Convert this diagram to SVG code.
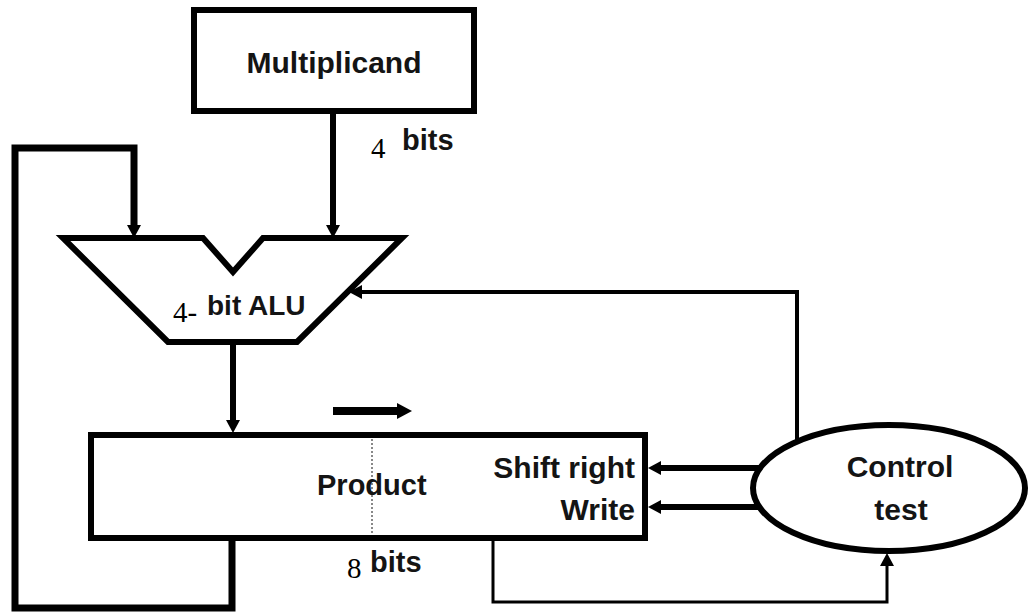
<svg xmlns="http://www.w3.org/2000/svg" width="1029" height="616" viewBox="0 0 1029 616">
<style>
.lbl{font-family:"Liberation Sans",Arial,sans-serif;font-weight:bold;fill:#141414}
.num{font-family:"Liberation Serif","Times New Roman",serif;fill:#000}
.box{fill:#fff;stroke:#000;stroke-width:6}
.wire{fill:none;stroke:#000;stroke-linejoin:miter}
</style>
<defs>
<marker id="arr" markerUnits="userSpaceOnUse" markerWidth="13" markerHeight="14" refX="0" refY="7" orient="auto" overflow="visible">
<path d="M0,0 L13,7 L0,14 z" fill="#000"/>
</marker>
<marker id="arrbig" markerUnits="userSpaceOnUse" markerWidth="15" markerHeight="16" refX="0" refY="8" orient="auto" overflow="visible">
<path d="M0,0 L15,8 L0,16 z" fill="#000"/>
</marker>
</defs>
<rect width="1029" height="616" fill="#fff"/>
<g id="connectors">
<path class="wire" d="M333,113 V225" stroke-width="6" marker-end="url(#arr)"/>
<path class="wire" d="M232,541 V608 H15 V148 H134 V225" stroke-width="7" marker-end="url(#arr)"/>
<path class="wire" d="M233,342 V420" stroke-width="6" marker-end="url(#arr)"/>
<path class="wire" d="M797,440 V292 H362" stroke-width="4" marker-end="url(#arr)"/>
<path class="wire" d="M760,468 H661" stroke-width="6" marker-end="url(#arr)"/>
<path class="wire" d="M760,507 H661" stroke-width="6" marker-end="url(#arr)"/>
<path class="wire" d="M493,541 V602 H887 V566" stroke-width="3" marker-end="url(#arr)"/>
<path class="wire" d="M333,411 H397" stroke-width="8" marker-end="url(#arrbig)"/>
</g>
<g id="multiplicand">
<rect class="box" x="194" y="10" width="280" height="101"/>
<text class="lbl" x="334" y="73" font-size="30" text-anchor="middle">Multiplicand</text>
</g>
<g id="label-4bits">
<text class="num" x="371" y="158" font-size="29">4</text>
<text class="lbl" x="402" y="150" font-size="29">bits</text>
</g>
<g id="alu">
<path class="box" d="M63,238 H203 L233,272 L263,238 H402 L297,342 H168 Z"/>
<text class="num" x="173" y="322" font-size="29">4-</text>
<text class="lbl" x="207" y="315" font-size="28">bit ALU</text>
</g>
<g id="product">
<rect class="box" x="91" y="435" width="554" height="103"/>
<line x1="372" y1="439" x2="372" y2="535" stroke="#888" stroke-width="2" stroke-dasharray="2,2"/>
<text class="lbl" x="317" y="495" font-size="29">Product</text>
<text class="lbl" x="635" y="478" font-size="30" text-anchor="end">Shift right</text>
<text class="lbl" x="635" y="520" font-size="30" text-anchor="end">Write</text>
</g>
<g id="control">
<ellipse class="box" cx="889" cy="488" rx="136" ry="63" stroke-width="5"/>
<text class="lbl" x="900" y="477" font-size="30" text-anchor="middle">Control</text>
<text class="lbl" x="901" y="520" font-size="30" text-anchor="middle">test</text>
</g>
<g id="label-8bits">
<text class="num" x="347" y="578" font-size="29">8</text>
<text class="lbl" x="370" y="572" font-size="29">bits</text>
</g>
</svg>
